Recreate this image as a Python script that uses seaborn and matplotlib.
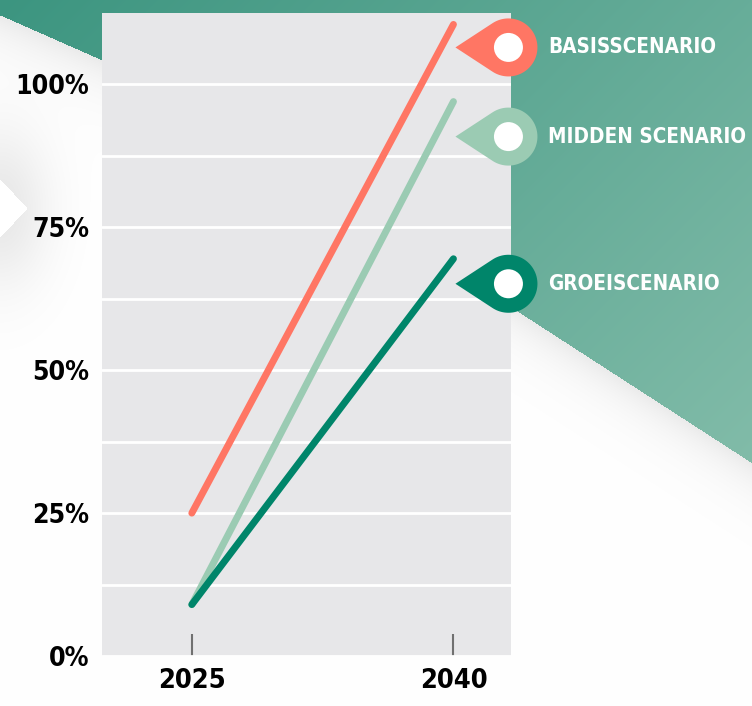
import numpy as np
import pandas as pd
import matplotlib
matplotlib.use('Agg')
import matplotlib.pyplot as plt
import matplotlib.transforms as mtransforms
import matplotlib.font_manager as fm
from matplotlib.patches import Polygon, Circle
import seaborn as sns

# data (percentages)
years = [2025, 2040]
scenarios = ['BASISSCENARIO', 'MIDDEN SCENARIO', 'GROEISCENARIO']
basis = [25.0, 110.5]
midden = [9.0, 97.0]
groei = [9.0, 69.5]
colors = ['#FF7664', '#9BCBB3', '#00856A']
y_ticks = [0, 25, 50, 75, 100]
y_labels = ['0%', '25%', '50%', '75%', '100%']
x_labels = ['2025', '2040']

df = pd.DataFrame({
    'year': years * 3,
    'value': basis + midden + groei,
    'scenario': [s for s in scenarios for _ in years],
})

sns.set_style('darkgrid', {'axes.facecolor': '#E7E7E9', 'grid.color': 'white'})
plt.rcParams['font.family'] = ['Liberation Sans', 'DejaVu Sans']
plt.rcParams['font.weight'] = 'bold'


def pick_font():
    # look for a bold condensed face, else a bold narrow-ish sans
    best, best_score = None, -1
    for f in fm.fontManager.ttflist:
        key = (f.name + ' ' + str(f.stretch) + ' ' + f.fname).lower()
        w = f.weight if isinstance(f.weight, int) else (700 if 'bold' in str(f.weight) else 400)
        score = 0
        if 'condensed' in key or 'narrow' in key:
            score += 10
            if 'semi' in key or 'extra' in key or 'ultra' in key:
                score -= 3
        if w >= 700 and 'black' not in key and 'extra' not in key:
            score += 5
        if 'italic' in key or 'oblique' in key or 'mono' in key or 'serif' in key and 'sans' not in key:
            score -= 20
        if 'liberation sans' in key:
            score += 1
        if score > best_score:
            best, best_score = f.fname, score
    return best


font_file = pick_font()

W, H = 752, 706

# background: green band with gradient, soft shadows, white chevron on the left
xx, yy = np.meshgrid(np.arange(W), np.arange(H))
edge = np.interp(xx, [0, 102, 511, 752], [15, 60, 307, 463])
d = yy - edge
shade = np.where(d > 0, 0.08 * np.exp(-d / 28.0), 0.0)
cy = 208
shade = shade + 0.09 * np.exp(-(xx / 50.0) ** 2) * np.exp(-((yy - cy) / 80.0) ** 2)
chevron = xx < 27 * (1 - np.abs(yy - cy) / 29.0)
shade[chevron] = 0
img = np.ones((H, W, 3)) - shade[..., None]
g0 = np.array([0x3C, 0x95, 0x80]) / 255
g1 = np.array([0x82, 0xBC, 0xA9]) / 255
t = np.clip((xx + yy) / (W + 470.0), 0, 1)
green = g0 + (g1 - g0) * t[..., None]
img[d <= 0] = green[d <= 0]

fig = plt.figure(figsize=(W / 100, H / 100), dpi=100)
bg = fig.add_axes([0, 0, 1, 1], zorder=0)
bg.imshow(img, aspect='auto')
bg.axis('off')

ax = fig.add_axes([102 / W, 50 / H, 409 / W, 643 / H], zorder=1)
sns.lineplot(data=df, x='year', y='value', hue='scenario', hue_order=scenarios,
             palette=colors, linewidth=5, legend=False, ax=ax)
for line in ax.lines:
    line.set_solid_capstyle('round')

ax.set_xlim(2019.85, 2043.3)
ax.set_ylim(0, 112.5)
ax.set_xticks(years, x_labels)
ax.set_yticks(y_ticks, y_labels)
ax.set_yticks([12.5, 37.5, 62.5, 87.5], minor=True)
ax.grid(False, axis='x')
ax.grid(True, which='both', axis='y', color='white', linewidth=2)
ax.tick_params(axis='y', which='both', length=0, pad=9, labelcolor='black')
ax.tick_params(axis='x', bottom=True, direction='in', length=16, width=1.5,
               color='#707070', pad=9, labelcolor='black')
ax.set_xlabel('')
ax.set_ylabel('')
for s in ax.spines.values():
    s.set_visible(False)

# map pins next to the 2040 end points
R, tip, dx = 0.29, 0.53, 0.55
pin_dy = [-0.23, -0.35, -0.25]
ang = np.arccos(R / tip)
theta = np.linspace(np.pi - ang, -(np.pi - ang), 80)
pin_texts = []
for name, vals, col, dy in zip(scenarios, [basis, midden, groei], colors, pin_dy):
    tr = fig.dpi_scale_trans + mtransforms.ScaledTranslation(years[-1], vals[-1], ax.transData)
    pts = [(dx - tip, dy)] + [(dx + R * np.cos(a), dy + R * np.sin(a)) for a in theta]
    ax.add_patch(Polygon(pts, closed=True, facecolor=col, edgecolor='none',
                         transform=tr, clip_on=False, zorder=5))
    ax.add_patch(Circle((dx, dy), 0.145, facecolor='white', edgecolor='none',
                        transform=tr, clip_on=False, zorder=6))
    pin_texts.append(ax.text(dx + 0.40, dy, name, transform=tr, color='white',
                             fontproperties=fm.FontProperties(fname=font_file, size=18),
                             va='center', ha='left', clip_on=False, zorder=6))

# size the texts so they take about the same room as in the original
renderer = fig.canvas.get_renderer()


def fit(texts, target_w, max_pt):
    w = max(tx.get_window_extent(renderer).width for tx in texts)
    size = min(texts[0].get_fontsize() * target_w / w, max_pt)
    for tx in texts:
        tx.set_fontproperties(fm.FontProperties(fname=font_file, size=size))


fit(pin_texts, 198, 25)
ytl = ax.get_yticklabels()
xtl = ax.get_xticklabels()
for tx in ytl + xtl:
    tx.set_fontproperties(fm.FontProperties(fname=font_file, size=20))
fit(ytl, 74, 22)
fit(xtl, 68, 22)

fig.savefig('out.png', dpi=100)
